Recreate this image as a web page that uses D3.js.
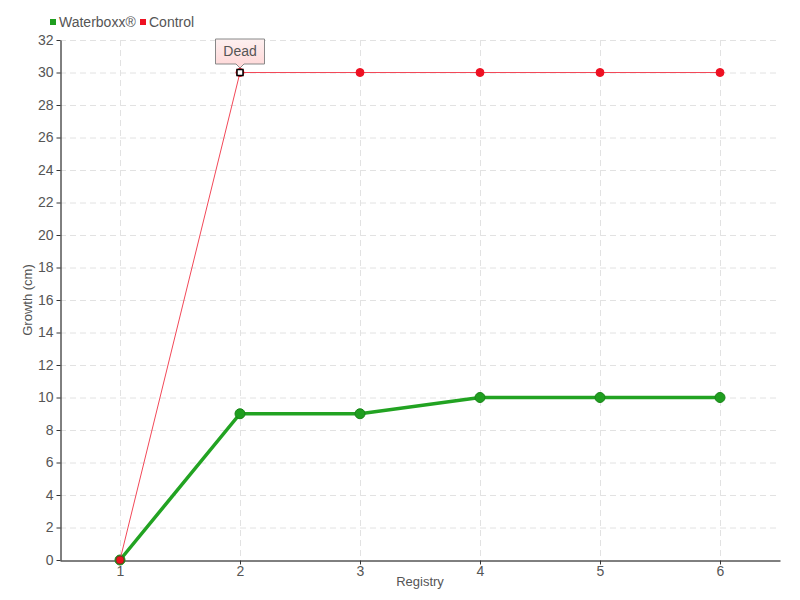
<!DOCTYPE html>
<html>
<head>
<meta charset="utf-8">
<script src="https://cdn.jsdelivr.net/npm/d3@7"></script>
<style>
  body { margin: 0; background: #fff; }
  text { font-family: "Liberation Sans", Arial, sans-serif; fill: #555; }
</style>
</head>
<body>
<div class="chart"></div>
<script>
// growth per registry, two series
var registries = [1, 2, 3, 4, 5, 6];
var waterboxx = [0, 9, 9, 10, 10, 10];
var control = [0, 30, 30, 30, 30, 30];
var yTicks = d3.range(0, 33, 2);
var seriesNames = ["Waterboxx®", "Control"];

var w = 800, h = 600,
	m = { top: 40, right: 20, bottom: 40, left: 60 };

var svg = d3.select('.chart').append('svg')
			.attr('width', w)
			.attr('height', h);

var x = d3.scaleLinear().domain([0.5, 6.5]).range([m.left, w - m.right]);
var y = d3.scaleLinear().domain([0, 32]).range([h - m.bottom, m.top]);

// grid
svg.append('g').selectAll('line')
		.data(yTicks.slice(1))
	.enter().append('line')
		.attr('x1', m.left).attr('x2', w - m.right)
		.attr('y1', function(d) { return y(d) + 0.5; })
		.attr('y2', function(d) { return y(d) + 0.5; })
		.attr('stroke', '#e2e2e2')
		.attr('stroke-dasharray', '6,4');

svg.append('g').selectAll('line')
		.data(registries)
	.enter().append('line')
		.attr('y1', m.top).attr('y2', h - m.bottom)
		.attr('x1', function(d) { return x(d) + 0.5; })
		.attr('x2', function(d) { return x(d) + 0.5; })
		.attr('stroke', '#e2e2e2')
		.attr('stroke-dasharray', '6,4');

// axes
var xAxis = svg.append('g')
		.attr('transform', 'translate(0,' + (h - m.bottom + 0.5) + ')')
		.call(d3.axisBottom(x).tickValues(registries).tickFormat(d3.format('d'))
			.tickSize(4).tickSizeOuter(0).tickPadding(2));
var yAxis = svg.append('g')
		.attr('transform', 'translate(' + (m.left + 0.5) + ',0)')
		.call(d3.axisLeft(y).tickValues(yTicks).tickFormat(d3.format('d'))
			.tickSize(4).tickSizeOuter(0).tickPadding(3));

[xAxis, yAxis].forEach(function(a) {
	a.select('.domain').attr('stroke', '#000');
	a.selectAll('.tick line').attr('stroke', '#333');
	a.selectAll('text').style('font-size', '14px').attr('fill', '#555')
		.style('font-family', '"Liberation Sans", Arial, sans-serif');
});

svg.append('text')
	.attr('x', (m.left + w - m.right) / 2)
	.attr('y', h - 14)
	.attr('text-anchor', 'middle')
	.style('font-size', '13px')
	.text('Registry');

svg.append('text')
	.attr('transform', 'translate(32,' + ((m.top + h - m.bottom) / 2) + ') rotate(-90)')
	.attr('text-anchor', 'middle')
	.style('font-size', '13px')
	.text('Growth (cm)');

// lines
var line = d3.line()
	.x(function(d, i) { return x(registries[i]); })
	.y(function(d) { return y(d); });

svg.append('path')
	.datum(waterboxx)
	.attr('d', line)
	.attr('fill', 'none')
	.attr('stroke', '#22a322')
	.attr('stroke-width', 3.5);

svg.append('g').selectAll('circle')
		.data(waterboxx)
	.enter().append('circle')
		.attr('cx', function(d, i) { return x(registries[i]); })
		.attr('cy', function(d) { return y(d); })
		.attr('r', 5)
		.attr('fill', '#1f9e1f')
		.attr('stroke', '#188418')
		.attr('stroke-width', 1);

svg.append('path')
	.datum(control)
	.attr('d', line)
	.attr('fill', 'none')
	.attr('stroke', '#f24858')
	.attr('stroke-width', 1);

svg.append('g').selectAll('circle')
		.data(control)
	.enter().append('circle')
		.attr('cx', function(d, i) { return x(registries[i]); })
		.attr('cy', function(d) { return y(d); })
		.attr('r', 4)
		.attr('fill', '#ee1122')
		.attr('stroke', function(d, i) { return i == 0 ? '#7a3a1a' : '#ee1122'; })
		.attr('stroke-width', 1);

// highlighted point with label
var hx = x(registries[1]), hy = y(control[1]);
svg.append('rect')
	.attr('x', hx - 3).attr('y', hy - 3)
	.attr('width', 6).attr('height', 6)
	.attr('fill', '#fff')
	.attr('stroke', '#000')
	.attr('stroke-width', 1.5);

var defs = svg.append('defs');
var grad = defs.append('linearGradient')
	.attr('id', 'tip').attr('x1', 0).attr('y1', 0).attr('x2', 0).attr('y2', 1);
grad.append('stop').attr('offset', '0%').attr('stop-color', '#fdf0f0');
grad.append('stop').attr('offset', '100%').attr('stop-color', '#ffd6d6');

var bx = hx - 24.5, by = hy - 33.5, bw = 49, bh = 25;
svg.append('path')
	.attr('d', 'M' + bx + ',' + by + 'h' + bw + 'v' + bh + 'h' + (-(bw / 2 - 4)) +
		'l-4,4l-4,-4h' + (-(bw / 2 - 4)) + 'z')
	.attr('fill', 'url(#tip)')
	.attr('stroke', '#888')
	.attr('stroke-width', 1);

svg.append('text')
	.attr('x', hx)
	.attr('y', by + 17)
	.attr('text-anchor', 'middle')
	.style('font-size', '14px')
	.text('Dead');

// legend
var colors = ['#1f9e1f', '#ee1122'];
var lx = [50, 140];
var legend = svg.append('g').selectAll('g')
		.data(seriesNames)
	.enter().append('g')
		.attr('transform', function(d, i) { return 'translate(' + lx[i] + ',0)'; });
legend.append('rect')
	.attr('x', 0).attr('y', 19)
	.attr('width', 6).attr('height', 6)
	.attr('fill', function(d, i) { return colors[i]; });
legend.append('text')
	.attr('x', 9).attr('y', 27)
	.style('font-size', '14px')
	.text(function(d) { return d; });
</script>
</body>
</html>
